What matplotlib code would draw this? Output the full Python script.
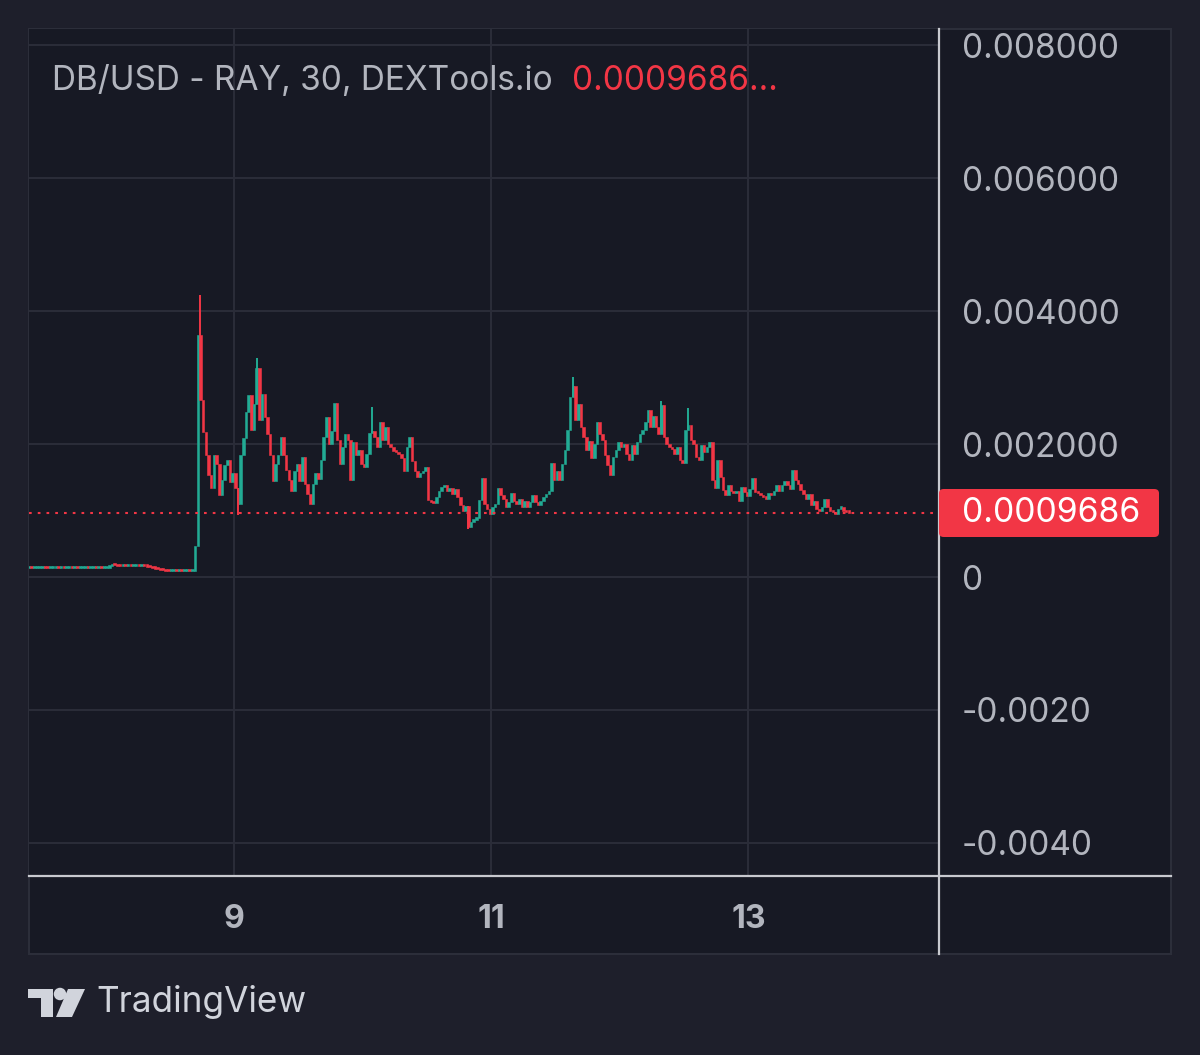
import matplotlib
matplotlib.use('Agg')
import matplotlib.pyplot as plt
import numpy as np
from matplotlib.patches import Rectangle, FancyBboxPatch, Polygon, Ellipse
from matplotlib.lines import Line2D

plt.rcParams['font.family'] = ['Inter', 'DejaVu Sans']

W, H = 1200, 1055

# ---------------- data ----------------
START_DAY = 7.40625          # first 30-minute candle (day of month)
CANDLES_PER_DAY = 48
PRICE_UNIT = 1e-6            # values below are in micro-USD

closes_a = [130, 128, 135, 135,
            135, 136, 135, 134, 135, 135, 136, 135, 135, 134, 135, 136, 135, 135, 134, 135,
            135, 136, 135, 135, 136, 135, 135, 134, 135, 140,
            160, 180, 175, 168,
            165, 166, 165, 165, 164, 165, 166, 165, 165, 163,
            155, 145, 135, 125, 115, 105, 98, 92,
            90, 90, 92, 90, 90, 89, 90, 91, 90, 90]
closes_b = [460, 3640, 2660, 2180, 1835, 1534, 1340, 1835, 1700, 1230,
            1460, 1684, 1760, 1430, 1560, 1340, 1100, 1835, 2090, 2480,
            2740, 2211, 2600, 3150, 2360, 2750, 2400, 2150, 1835, 1450,
            1700, 1835, 2100, 1835, 1610, 1460, 1300, 1600, 1700, 1450,
            1800, 1400, 1250, 1100, 1400, 1560, 1480, 1760, 2100, 2400,
            2000, 2200, 2620, 2060, 1700, 1950, 2150, 2060]
closes_c = [1460, 2030, 1835, 1910, 1700, 1650, 1850, 2160, 2200, 2100,
            1950, 2330, 2060, 2250, 2000, 1950, 1900, 1880, 1850, 1790,
            1600, 1950, 2105, 1750, 1600, 1504, 1560, 1600, 1650, 1158,
            1130, 1110, 1200, 1300, 1350, 1380, 1300, 1340, 1250, 1320,
            1200, 1080, 1000, 1070, 750, 830, 860, 880, 1160, 1490,
            1100, 1030, 950, 1050, 1100, 1340, 1240, 1180, 1050]
closes_d = [1130, 1260, 1150, 1100, 1180, 1050, 1150, 1060, 1130, 1240,
            1130, 1080, 1150, 1200, 1250, 1300, 1715, 1460, 1600, 1460,
            1700, 1910, 2211, 2707, 2880, 2360, 2600, 2250, 2100, 1910,
            2050, 1790, 2000, 2330, 2150, 2060, 1835, 1684, 1530, 1800,
            1910, 2030, 1950, 2000, 1850, 1760, 1985, 1850, 2030, 2150,
            2211, 2330, 2512, 2250, 2420, 2250, 2150, 2590, 2100, 2000,
            1960, 1920, 1850, 1950]
closes_e = [1760, 1720, 2211, 2286, 2060, 2000, 1800, 1760, 1985, 1880,
            1950, 2030, 1460, 1340, 1760, 1500, 1310, 1240, 1380, 1300,
            1260, 1300, 1150, 1350, 1280, 1220, 1330, 1490, 1280, 1260,
            1230, 1200, 1180, 1260, 1230, 1300, 1380, 1300, 1380, 1450,
            1380, 1320, 1609, 1460, 1400, 1310, 1250, 1180, 1250, 1080,
            1150, 1020, 990, 1060, 1180, 1050, 1000, 980, 950, 1030,
            1060, 990, 975, 968.6]

wick_index = [64, 78, 85, 128, 164, 203, 236, 246]
wick_price = [4240, 930, 3300, 2557, 720, 3008, 2640, 2542]

last_price = 968.6
last_label = "0.0009686"
title_text = "DB/USD - RAY, 30, DEXTools.io"
title_value = "0.0009686..."

y_ticks = [-0.004, -0.002, 0.0, 0.002, 0.004, 0.006, 0.008]
y_tick_labels = ["-0.0040", "-0.0020", "0", "0.002000", "0.004000", "0.006000", "0.008000"]
x_ticks = [9, 11, 13]
x_tick_labels = ["9", "11", "13"]

# ---------------- styling ----------------
BG_OUT = '#1e1f2b'
BG_IN = '#171924'
GRID = '#2a2c38'
TXT = '#b2b5be'
UP = '#22ab94'
DOWN = '#f23645'
SEP = '#c8c9cf'

def fx(x):
    return x / W

def fy(y):
    return 1 - y / H

fig = plt.figure(figsize=(W / 100, H / 100), dpi=100, facecolor=BG_OUT)

panel = Rectangle((fx(29), fy(954)), (1171 - 29) / W, (954 - 29) / H,
                  transform=fig.transFigure, facecolor=BG_IN, edgecolor='#2c2e3a',
                  lw=1.5, zorder=0)
fig.add_artist(panel)

ax = fig.add_axes([fx(29), fy(876), 910 / W, 847 / H])
ax.set_facecolor(BG_IN)
for s in ax.spines.values():
    s.set_visible(False)

closes = np.array(closes_a + closes_b + closes_c + closes_d + closes_e, dtype=float) * PRICE_UNIT
opens = np.concatenate([[closes[0]], closes[:-1]])
n = len(closes)
t = START_DAY + np.arange(n) / CANDLES_PER_DAY

up = closes >= opens
colors = np.where(up, UP, DOWN)
bottoms = np.minimum(opens, closes)
heights = np.maximum(np.abs(closes - opens), 3.5e-5)
width = 0.95 / CANDLES_PER_DAY

# wicks
for i, p in zip(wick_index, wick_price):
    p = p * PRICE_UNIT
    lo = min(p, bottoms[i])
    hi = max(p, bottoms[i] + heights[i])
    ax.vlines(t[i], lo, hi, color=colors[i], lw=1.4, zorder=3)

ax.bar(t, heights, bottom=bottoms, width=width, color=colors, edgecolor=colors,
       linewidth=0.4, zorder=4)

# last price dotted line
ax.axhline(last_price * PRICE_UNIT, color=DOWN, lw=1.5, linestyle=(0, (1.3, 2.9)), zorder=5)

ax.set_xlim(START_DAY, 14.482)
ax.set_ylim(-0.004497, 0.008242)

ax.set_yticks(y_ticks)
ax.set_yticklabels(y_tick_labels)
ax.set_xticks(x_ticks)
ax.set_xticklabels(x_tick_labels)
ax.yaxis.tick_right()
ax.tick_params(axis='y', length=0, pad=16.5, labelsize=24, labelcolor=TXT)
ax.tick_params(axis='x', length=0, pad=20, labelsize=23, labelcolor=TXT)
for lab in ax.get_xticklabels():
    lab.set_fontweight('bold')
ax.grid(True, color=GRID, lw=1.5, zorder=0)
ax.set_axisbelow(True)

# separators
fig.add_artist(Line2D([fx(939), fx(939)], [fy(29), fy(954)], color=SEP, lw=1.6, zorder=6))
fig.add_artist(Line2D([fx(29), fx(1171)], [fy(876), fy(876)], color=SEP, lw=1.6, zorder=6))

# legend/title text
fig.text(fx(52), fy(81), title_text, color=TXT, fontsize=24, va='center', ha='left')
fig.text(fx(572), fy(81), title_value, color=DOWN, fontsize=24, va='center', ha='left')

# last price label box
box = FancyBboxPatch((fx(939), fy(537)), (1159 - 939) / W, (537 - 489) / H,
                     boxstyle='round,pad=0,rounding_size=0.004', transform=fig.transFigure,
                     facecolor=DOWN, edgecolor='none', zorder=7)
fig.add_artist(box)
fig.text(fx(962), fy(513), last_label, color='white', fontsize=24.3, va='center', ha='left', zorder=8)

# TradingView logo
LOGO = '#d1d4dc'
fig.add_artist(Polygon([(fx(28), fy(989)), (fx(53), fy(989)), (fx(53), fy(1017)), (fx(41), fy(1017)),
                        (fx(41), fy(998)), (fx(28), fy(998))], closed=True,
                       transform=fig.transFigure, facecolor=LOGO, edgecolor='none'))
fig.add_artist(Ellipse((fx(60), fy(994)), 12.5 / W, 12.5 / H, transform=fig.transFigure,
                       facecolor=LOGO, edgecolor='none'))
fig.add_artist(Polygon([(fx(68), fy(989)), (fx(85), fy(989)), (fx(72), fy(1017)), (fx(56), fy(1017))],
                       closed=True, transform=fig.transFigure, facecolor=LOGO, edgecolor='none'))
fig.text(fx(96), fy(1002), "TradingView", color=LOGO, fontsize=25.3, va='center', ha='left')

fig.savefig('out.png', dpi=100, facecolor=BG_OUT)
